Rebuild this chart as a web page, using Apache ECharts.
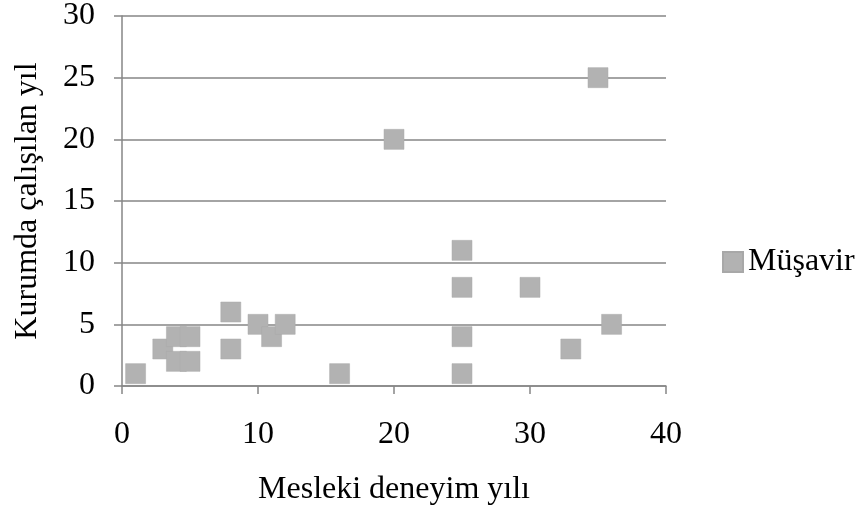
<!DOCTYPE html>
<html><head><meta charset="utf-8">
<script src="https://cdn.jsdelivr.net/npm/echarts@6/dist/echarts.min.js"></script>
<style>html,body{margin:0;padding:0;background:#fff}#c{width:860px;height:515px}</style>
</head><body><div id="c"></div>
<script>
const seriesName = 'Müşavir';
const xValues = [1, 3, 4, 4, 5, 5, 8, 8, 10, 11, 12, 16, 20, 25, 25, 25, 25, 30, 33, 35, 36];
const yValues = [1, 3, 4, 2, 4, 2, 6, 3, 5, 4, 5, 1, 20, 11, 8, 4, 1, 8, 3, 25, 5];
const xTitle = 'Mesleki deneyim yılı';
const yTitle = 'Kurumda çalışılan yıl';

const font = 'Liberation Serif, Times New Roman, serif';
const fs = 32;
const axisCol = '#868686';
const chart = echarts.init(document.getElementById('c'), null, {renderer: 'canvas'});
chart.setOption({
  animation: false,
  backgroundColor: '#fff',
  grid: {left: 122, right: 194, top: 15, bottom: 129, containLabel: false},
  legend: {
    left: 722, top: 246, orient: 'vertical', padding: 0,
    itemWidth: 20, itemHeight: 20, icon: 'rect',
    textStyle: {fontFamily: font, fontSize: fs, color: '#000'},
    data: [seriesName]
  },
  xAxis: {
    type: 'value', min: 0, max: 40, interval: 10,
    name: xTitle, nameLocation: 'middle', nameGap: 88,
    nameTextStyle: {fontFamily: font, fontSize: fs, color: '#000', verticalAlign: 'top'},
    axisLine: {show: true, lineStyle: {color: axisCol, width: 1.5}},
    axisTick: {show: true, inside: false, length: 8, lineStyle: {color: axisCol, width: 1.5}},
    axisLabel: {fontFamily: font, fontSize: fs, color: '#000', margin: 33},
    splitLine: {show: false}
  },
  yAxis: {
    type: 'value', min: 0, max: 30, interval: 5,
    name: yTitle, nameLocation: 'middle', nameGap: 78,
    nameTextStyle: {fontFamily: font, fontSize: fs, color: '#000'},
    axisLine: {show: true, lineStyle: {color: axisCol, width: 1.5}},
    axisTick: {show: true, inside: false, length: 8, lineStyle: {color: axisCol, width: 1.5}},
    axisLabel: {fontFamily: font, fontSize: fs, color: '#000', margin: 27},
    splitLine: {show: true, lineStyle: {color: axisCol, width: 1.5}}
  },
  series: [{
    name: seriesName, type: 'scatter',
    symbol: 'rect', symbolSize: 20,
    itemStyle: {color: '#b2b2b2', borderColor: '#a8a8a8', borderWidth: 0.5, opacity: 1},
    data: xValues.map((x, i) => [x, yValues[i]])
  }]
});
</script></body></html>
